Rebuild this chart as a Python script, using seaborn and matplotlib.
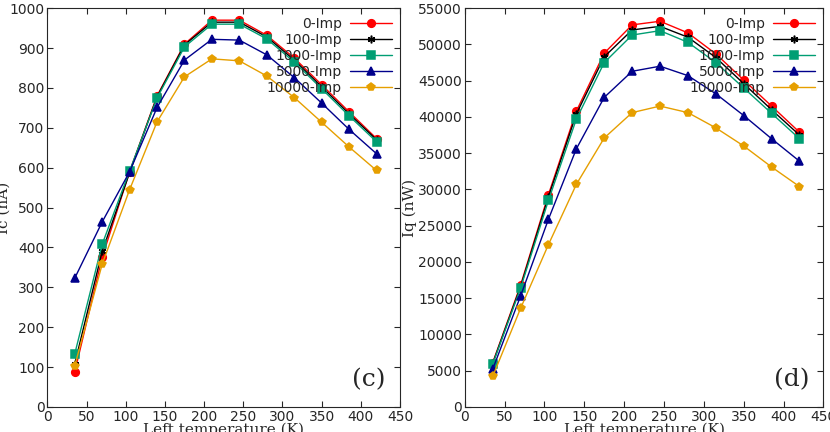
import numpy as np
import pandas as pd
import matplotlib
matplotlib.use("Agg")
import matplotlib.pyplot as plt
import seaborn as sns

sns.set_style("ticks")

temps = [35, 70, 105, 140, 175, 210, 245, 280, 315, 350, 385, 420]
series_names = ["0-Imp", "100-Imp", "1000-Imp", "5000-Imp", "10000-Imp"]

# Ic (nA)
ic_0 = [88, 375, 590, 780, 910, 970, 970, 932, 875, 808, 740, 673]
ic_100 = [108, 390, 588, 778, 908, 965, 965, 928, 870, 803, 735, 670]
ic_1000 = [133, 408, 592, 775, 903, 960, 960, 923, 865, 798, 730, 665]
ic_5000 = [323, 464, 590, 751, 870, 922, 920, 883, 826, 762, 696, 635]
ic_10000 = [103, 358, 545, 715, 828, 873, 868, 830, 776, 714, 652, 593]

# Iq (nW)
iq_0 = [6100, 16800, 29300, 40800, 48800, 52700, 53200, 51600, 48700, 45100, 41500, 37900]
iq_100 = [6000, 16600, 29000, 40400, 48300, 52000, 52500, 51000, 48200, 44600, 41000, 37500]
iq_1000 = [5900, 16400, 28500, 39700, 47500, 51300, 51900, 50300, 47500, 44000, 40500, 37000]
iq_5000 = [5200, 15300, 25900, 35600, 42700, 46300, 47000, 45700, 43200, 40200, 37000, 33900]
iq_10000 = [4200, 13600, 22400, 30700, 37100, 40600, 41500, 40600, 38500, 36000, 33100, 30400]

colors = ["#ff0000", "#000000", "#009e73", "#00008b", "#e69f00"]
markers = ["o", (6, 2, 0), "s", "^", "p"]


def to_long(cols):
    rows = []
    for name, vals in zip(series_names, cols):
        for t, v in zip(temps, vals):
            rows.append({"T": t, "val": v, "series": name})
    return pd.DataFrame(rows)


fig = plt.figure(figsize=(8.3, 4.32), dpi=100)
ax1 = fig.add_axes([0.057, 0.058, 0.425, 0.923])
ax2 = fig.add_axes([0.560, 0.058, 0.432, 0.923])

panels = [
    (ax1, [ic_0, ic_100, ic_1000, ic_5000, ic_10000], "Ic (nA)", (0, 1000), 100, "(c)"),
    (ax2, [iq_0, iq_100, iq_1000, iq_5000, iq_10000], "Iq (nW)", (0, 55000), 5000, "(d)"),
]

for ax, cols, ylab, ylim, ystep, tag in panels:
    df = to_long(cols)
    for i, name in enumerate(series_names):
        sub = df[df["series"] == name]
        sns.lineplot(data=sub, x="T", y="val", ax=ax, color=colors[i], marker=markers[i],
                     markersize=5.5, markeredgecolor=colors[i],
                     markeredgewidth=1.1, linewidth=1, label=name)
    ax.set_xlim(0, 450)
    ax.set_ylim(*ylim)
    ax.set_xticks(np.arange(0, 451, 50))
    ax.set_yticks(np.arange(ylim[0], ylim[1] + 1, ystep))
    ax.tick_params(direction="in", labelsize=10, top=True, right=True, length=4, pad=2)
    ax.set_xlabel("Left temperature (K)", fontfamily="serif", fontsize=11, labelpad=-1)
    ax.set_ylabel(ylab, fontfamily="serif", fontsize=11, labelpad=1)
    ax.text(0.96, 0.04, tag, transform=ax.transAxes, ha="right", va="bottom",
            fontfamily="serif", fontsize=18)
    for s in ax.spines.values():
        s.set_linewidth(0.8)
    ax.legend(loc="upper right", frameon=False, markerfirst=False, fontsize=10,
              handlelength=3, labelspacing=0.15, borderaxespad=0.2, handletextpad=0.6)

ax1.yaxis.set_label_coords(-0.105, 0.5)
fig.savefig("out.png", dpi=100)
